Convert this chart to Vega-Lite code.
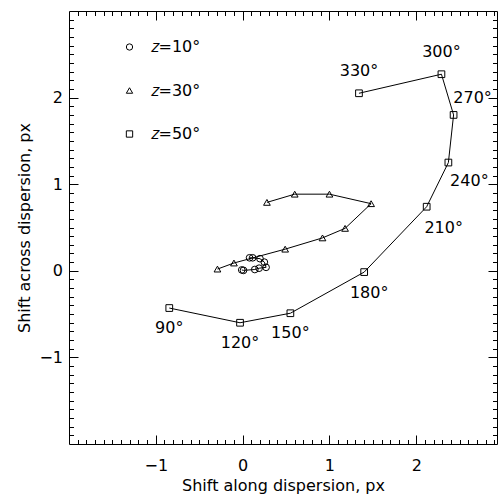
{
  "$schema": "https://vega.github.io/schema/vega-lite/v6.json",
  "width": 428,
  "height": 433,
  "autosize": "none",
  "padding": {"left": 69, "top": 11, "right": 5, "bottom": 52},
  "background": "white",
  "config": {
    "font": "DejaVu Sans",
    "view": {"stroke": "black", "strokeWidth": 1},
    "axis": {
      "domain": false,
      "grid": false,
      "tickColor": "black",
      "tickWidth": 1,
      "labelFont": "DejaVu Sans",
      "labelFontSize": 16,
      "labelColor": "black",
      "labelOverlap": false,
      "labelFlush": false,
      "labelBound": false,
      "titleFont": "DejaVu Sans",
      "titleFontSize": 16,
      "titleFontWeight": "normal",
      "titleColor": "black",
      "tickSize": {"condition": {"test": "abs(datum.value - round(datum.value)) < 0.001", "value": -9}, "value": -4.5},
      "labelExpr": "abs(datum.value - round(datum.value)) < 0.001 ? format(round(datum.value), 'd') : ''"
    }
  },
  "data": {
    "values": [
      {"z": "𝑧=10°", "k": 1, "x": 0.08, "y": 0.15},
      {"z": "𝑧=10°", "k": 2, "x": 0.115, "y": 0.15},
      {"z": "𝑧=10°", "k": 3, "x": 0.20, "y": 0.14},
      {"z": "𝑧=10°", "k": 4, "x": 0.25, "y": 0.10},
      {"z": "𝑧=10°", "k": 5, "x": 0.27, "y": 0.04},
      {"z": "𝑧=10°", "k": 6, "x": 0.19, "y": 0.03},
      {"z": "𝑧=10°", "k": 7, "x": 0.14, "y": 0.015},
      {"z": "𝑧=10°", "k": 8, "x": 0.01, "y": 0.005},
      {"z": "𝑧=10°", "k": 9, "x": -0.01, "y": 0.01},
      {"z": "𝑧=30°", "k": 1, "x": 0.28, "y": 0.79},
      {"z": "𝑧=30°", "k": 2, "x": 0.60, "y": 0.885},
      {"z": "𝑧=30°", "k": 3, "x": 1.00, "y": 0.885},
      {"z": "𝑧=30°", "k": 4, "x": 1.48, "y": 0.775},
      {"z": "𝑧=30°", "k": 5, "x": 1.18, "y": 0.49},
      {"z": "𝑧=30°", "k": 6, "x": 0.92, "y": 0.38},
      {"z": "𝑧=30°", "k": 7, "x": 0.49, "y": 0.25},
      {"z": "𝑧=30°", "k": 8, "x": -0.10, "y": 0.09},
      {"z": "𝑧=30°", "k": 9, "x": -0.29, "y": 0.02},
      {"z": "𝑧=50°", "k": 1, "angle": 90, "x": -0.845, "y": -0.43},
      {"z": "𝑧=50°", "k": 2, "angle": 120, "x": -0.03, "y": -0.60},
      {"z": "𝑧=50°", "k": 3, "angle": 150, "x": 0.55, "y": -0.49},
      {"z": "𝑧=50°", "k": 4, "angle": 180, "x": 1.40, "y": -0.015},
      {"z": "𝑧=50°", "k": 5, "angle": 210, "x": 2.12, "y": 0.74},
      {"z": "𝑧=50°", "k": 6, "angle": 240, "x": 2.37, "y": 1.25},
      {"z": "𝑧=50°", "k": 7, "angle": 270, "x": 2.43, "y": 1.80},
      {"z": "𝑧=50°", "k": 8, "angle": 300, "x": 2.29, "y": 2.27},
      {"z": "𝑧=50°", "k": 9, "angle": 330, "x": 1.34, "y": 2.05}
    ]
  },
  "encoding": {
    "x": {"field": "x", "type": "quantitative", "scale": {"domain": [-2, 2.93], "nice": false, "zero": false}},
    "y": {"field": "y", "type": "quantitative", "scale": {"domain": [-2, 3], "nice": false, "zero": false}}
  },
  "layer": [
    {
      "mark": {"type": "line", "color": "black", "strokeWidth": 1},
      "encoding": {
        "detail": {"field": "z"},
        "order": {"field": "k", "type": "quantitative"},
        "x": {
          "field": "x", "type": "quantitative",
          "axis": {
            "orient": "bottom",
            "title": "Shift along dispersion, px",
            "values": [-1.9,-1.8,-1.7,-1.6,-1.5,-1.4,-1.3,-1.2,-1.1,-1,-0.9,-0.8,-0.7,-0.6,-0.5,-0.4,-0.3,-0.2,-0.1,0,0.1,0.2,0.3,0.4,0.5,0.6,0.7,0.8,0.9,1,1.1,1.2,1.3,1.4,1.5,1.6,1.7,1.8,1.9,2,2.1,2.2,2.3,2.4,2.5,2.6,2.7,2.8,2.9],
            "labelPadding": 22.5,
            "titlePadding": -1
          }
        },
        "y": {
          "field": "y", "type": "quantitative",
          "axis": {
            "orient": "left",
            "title": "Shift across dispersion, px",
            "values": [-1.9,-1.8,-1.7,-1.6,-1.5,-1.4,-1.3,-1.2,-1.1,-1,-0.9,-0.8,-0.7,-0.6,-0.5,-0.4,-0.3,-0.2,-0.1,0,0.1,0.2,0.3,0.4,0.5,0.6,0.7,0.8,0.9,1,1.1,1.2,1.3,1.4,1.5,1.6,1.7,1.8,1.9,2,2.1,2.2,2.3,2.4,2.5,2.6,2.7,2.8,2.9],
            "labelPadding": 15.5,
            "titlePadding": 6
          }
        }
      }
    },
    {
      "mark": {"type": "point", "filled": false, "stroke": "black", "strokeWidth": 1, "size": 45, "opacity": 1},
      "encoding": {
        "x": {
          "field": "x", "type": "quantitative",
          "axis": {
            "orient": "top", "title": null, "labels": false,
            "values": [-1.9,-1.8,-1.7,-1.6,-1.5,-1.4,-1.3,-1.2,-1.1,-1,-0.9,-0.8,-0.7,-0.6,-0.5,-0.4,-0.3,-0.2,-0.1,0,0.1,0.2,0.3,0.4,0.5,0.6,0.7,0.8,0.9,1,1.1,1.2,1.3,1.4,1.5,1.6,1.7,1.8,1.9,2,2.1,2.2,2.3,2.4,2.5,2.6,2.7,2.8,2.9]
          }
        },
        "y": {
          "field": "y", "type": "quantitative",
          "axis": {
            "orient": "right", "title": null, "labels": false,
            "values": [-1.9,-1.8,-1.7,-1.6,-1.5,-1.4,-1.3,-1.2,-1.1,-1,-0.9,-0.8,-0.7,-0.6,-0.5,-0.4,-0.3,-0.2,-0.1,0,0.1,0.2,0.3,0.4,0.5,0.6,0.7,0.8,0.9,1,1.1,1.2,1.3,1.4,1.5,1.6,1.7,1.8,1.9,2,2.1,2.2,2.3,2.4,2.5,2.6,2.7,2.8,2.9]
          }
        },
        "shape": {
          "field": "z", "type": "nominal",
          "scale": {"domain": ["𝑧=10°", "𝑧=30°", "𝑧=50°"], "range": ["circle", "triangle-up", "square"]},
          "legend": {
            "orient": "none",
            "legendX": 52.5,
            "legendY": 28,
            "title": null,
            "padding": 0,
            "symbolSize": 40,
            "symbolStrokeColor": "black",
            "symbolFillColor": "transparent",
            "symbolStrokeWidth": 1,
            "labelFont": "DejaVu Sans",
            "labelFontSize": 16,
            "labelColor": "black",
            "labelOffset": 13,
            "rowPadding": 27.5
          }
        }
      }
    },
    {
      "transform": [{"filter": "datum.angle >= 300"}, {"calculate": "datum.angle + '°'", "as": "lab"}],
      "mark": {"type": "text", "fontSize": 16, "font": "DejaVu Sans", "color": "black", "align": "center", "baseline": "middle", "dy": -22},
      "encoding": {"x": {"field": "x", "type": "quantitative", "axis": null}, "y": {"field": "y", "type": "quantitative", "axis": null}, "text": {"field": "lab"}}
    },
    {
      "transform": [{"filter": "datum.angle == 270"}, {"calculate": "datum.angle + '°'", "as": "lab"}],
      "mark": {"type": "text", "fontSize": 16, "font": "DejaVu Sans", "color": "black", "align": "center", "baseline": "middle", "dx": 19, "dy": -17},
      "encoding": {"x": {"field": "x", "type": "quantitative", "axis": null}, "y": {"field": "y", "type": "quantitative", "axis": null}, "text": {"field": "lab"}}
    },
    {
      "transform": [{"filter": "datum.angle == 240"}, {"calculate": "datum.angle + '°'", "as": "lab"}],
      "mark": {"type": "text", "fontSize": 16, "font": "DejaVu Sans", "color": "black", "align": "center", "baseline": "middle", "dx": 21, "dy": 18},
      "encoding": {"x": {"field": "x", "type": "quantitative", "axis": null}, "y": {"field": "y", "type": "quantitative", "axis": null}, "text": {"field": "lab"}}
    },
    {
      "transform": [{"filter": "datum.angle == 210"}, {"calculate": "datum.angle + '°'", "as": "lab"}],
      "mark": {"type": "text", "fontSize": 16, "font": "DejaVu Sans", "color": "black", "align": "center", "baseline": "middle", "dx": 17, "dy": 21},
      "encoding": {"x": {"field": "x", "type": "quantitative", "axis": null}, "y": {"field": "y", "type": "quantitative", "axis": null}, "text": {"field": "lab"}}
    },
    {
      "transform": [{"filter": "datum.angle == 180"}, {"calculate": "datum.angle + '°'", "as": "lab"}],
      "mark": {"type": "text", "fontSize": 16, "font": "DejaVu Sans", "color": "black", "align": "center", "baseline": "middle", "dx": 5, "dy": 21},
      "encoding": {"x": {"field": "x", "type": "quantitative", "axis": null}, "y": {"field": "y", "type": "quantitative", "axis": null}, "text": {"field": "lab"}}
    },
    {
      "transform": [{"filter": "datum.angle <= 150"}, {"calculate": "datum.angle + '°'", "as": "lab"}],
      "mark": {"type": "text", "fontSize": 16, "font": "DejaVu Sans", "color": "black", "align": "center", "baseline": "middle", "dy": 20},
      "encoding": {"x": {"field": "x", "type": "quantitative", "axis": null}, "y": {"field": "y", "type": "quantitative", "axis": null}, "text": {"field": "lab"}}
    }
  ],
  "resolve": {"axis": {"x": "independent", "y": "independent"}}
}
